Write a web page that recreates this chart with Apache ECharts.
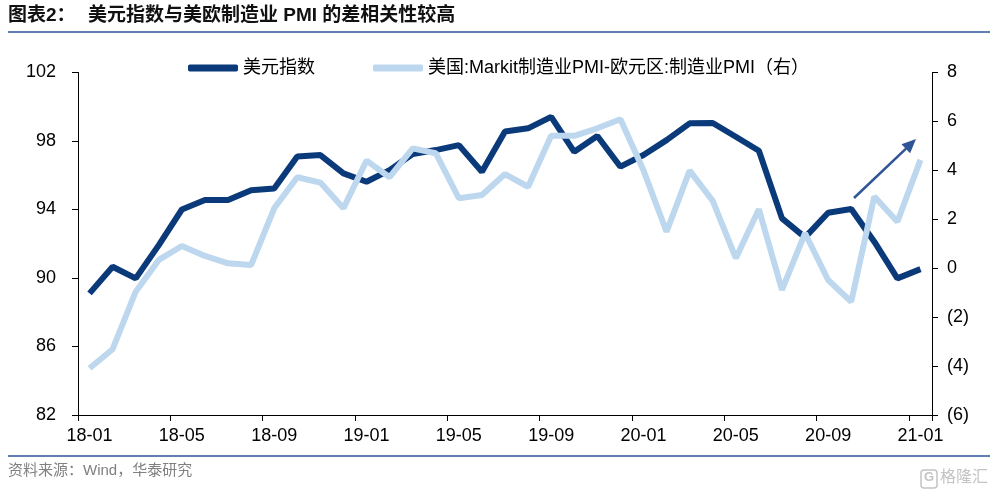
<!DOCTYPE html>
<html>
<head>
<meta charset="utf-8">
<script src="https://cdn.jsdelivr.net/npm/echarts@6/dist/echarts.min.js"></script>
<style>
html,body{margin:0;padding:0;background:#fff;}
#main{width:997px;height:496px;}
</style>
</head>
<body>
<div id="main"></div>
<script>
var categories = ['18-01','18-02','18-03','18-04','18-05','18-06','18-07','18-08','18-09','18-10','18-11','18-12',
  '19-01','19-02','19-03','19-04','19-05','19-06','19-07','19-08','19-09','19-10','19-11','19-12',
  '20-01','20-02','20-03','20-04','20-05','20-06','20-07','20-08','20-09','20-10','20-11','20-12','21-01'];
var dollarIndex = [89.10, 90.66, 89.98, 91.92, 94.00, 94.55, 94.55, 95.13, 95.23, 97.10, 97.18, 96.11,
  95.62, 96.30, 97.24, 97.47, 97.76, 96.20, 98.56, 98.74, 99.41, 97.37, 98.29, 96.50,
  97.18, 98.05, 99.03, 99.05, 98.25, 97.43, 93.48, 92.37, 93.81, 94.03, 92.12, 89.98, 90.52];
var pmiSpread = [-4.09, -3.31, -0.96, 0.34, 0.91, 0.50, 0.20, 0.13, 2.45, 3.72, 3.50, 2.45,
  4.40, 3.72, 4.90, 4.70, 2.86, 2.99, 3.85, 3.33, 5.41, 5.41, 5.72, 6.09,
  4.00, 1.49, 3.99, 2.75, 0.41, 2.41, -0.89, 1.43, -0.48, -1.37, 2.93, 1.90, 4.43];
var seriesNames = ['美元指数', '美国:Markit制造业PMI-欧元区:制造业PMI（右）'];
var leftTicks = {min: 82, max: 102, interval: 4};
var rightTicks = {min: -6, max: 8, interval: 2};

var FONT = "'Liberation Sans', Arial, 'Noto Sans CJK SC', sans-serif";
var DARK = '#0b3a7a';
var LIGHT = '#bdd7ee';

var chart = echarts.init(document.getElementById('main'), null, {renderer: 'canvas'});
chart.setOption({
  backgroundColor: '#fff',
  animation: false,
  textStyle: {fontFamily: FONT},
  grid: {left: 78, right: 65, top: 72.5, bottom: 81, containLabel: false},
  legend: {
    left: 183, top: 54,
    itemWidth: 50, itemHeight: 7, itemGap: 58,
    icon: 'roundRect',
    textStyle: {fontSize: 18, color: '#000', fontFamily: FONT},
    data: seriesNames
  },
  xAxis: {
    type: 'category',
    data: categories,
    boundaryGap: true,
    axisLine: {onZero: false, lineStyle: {color: '#000', width: 1}},
    axisTick: {show: true, interval: 3, length: 6, lineStyle: {color: '#000'}},
    axisLabel: {interval: 3, color: '#000', fontSize: 18, margin: 12, fontFamily: FONT},
    splitLine: {show: false}
  },
  yAxis: [{
    type: 'value',
    min: leftTicks.min, max: leftTicks.max, interval: leftTicks.interval,
    axisLine: {show: true, onZero: false, lineStyle: {color: '#000', width: 1}},
    axisTick: {show: true, length: 6, lineStyle: {color: '#000'}},
    axisLabel: {color: '#000', fontSize: 18, margin: 22, fontFamily: FONT},
    splitLine: {show: false}
  }, {
    type: 'value',
    position: 'right',
    min: rightTicks.min, max: rightTicks.max, interval: rightTicks.interval,
    axisLine: {show: true, onZero: false, lineStyle: {color: '#000', width: 1}},
    axisTick: {show: true, length: 6, lineStyle: {color: '#000'}},
    axisLabel: {
      color: '#000', fontSize: 18, margin: 15, fontFamily: FONT,
      formatter: function (v) { return v < 0 ? '(' + (-v) + ')' : String(v); }
    },
    splitLine: {show: false}
  }],
  series: [{
    name: seriesNames[0],
    type: 'line',
    yAxisIndex: 0,
    data: dollarIndex,
    symbol: 'none',
    lineStyle: {color: DARK, width: 6},
    itemStyle: {color: DARK}
  }, {
    name: seriesNames[1],
    type: 'line',
    yAxisIndex: 1,
    data: pmiSpread,
    symbol: 'none',
    lineStyle: {color: LIGHT, width: 6},
    itemStyle: {color: LIGHT}
  }],
  graphic: [
    {type: 'text', left: 8, top: 6, style: {text: '图表2：', font: "bold 19px " + FONT, fill: '#111'}},
    {type: 'text', left: 88, top: 6, style: {text: '美元指数与美欧制造业 PMI 的差相关性较高', font: "bold 19px " + FONT, fill: '#111'}},
    {type: 'rect', shape: {x: 8, y: 31, width: 982, height: 2}, style: {fill: '#5f7fb3'}},
    {type: 'rect', shape: {x: 8, y: 455, width: 982, height: 2}, style: {fill: '#5f7fb3'}},
    {type: 'text', left: 8, top: 463, style: {text: '资料来源：Wind，华泰研究', font: "15px " + FONT, fill: '#808080'}},
    {type: 'rect', shape: {x: 921, y: 470, width: 16, height: 18, r: 3}, style: {fill: 'none', stroke: '#c4c4c4', lineWidth: 1.5}},
    {type: 'text', left: 924, top: 471, style: {text: 'G', font: "bold 13px " + FONT, fill: '#c4c4c4'}},
    {type: 'text', left: 940, top: 470, style: {text: '格隆汇', font: "16px " + FONT, fill: '#c4c4c4'}},
    {type: 'line', shape: {x1: 854, y1: 198, x2: 906, y2: 148.7}, style: {stroke: '#2f5597', lineWidth: 2.5}},
    {type: 'polygon', shape: {points: [[916, 139], [910.1, 153.3], [901.5, 144.2]]}, style: {fill: '#2f5597'}}
  ]
});
</script>
</body>
</html>
